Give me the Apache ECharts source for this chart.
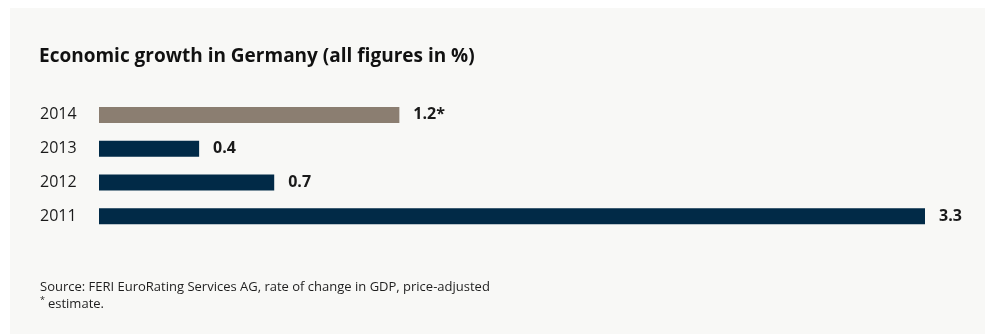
<!DOCTYPE html>
<html>
<head>
<meta charset="utf-8">
<script src="https://cdn.jsdelivr.net/npm/echarts@6/dist/echarts.min.js"></script>
<style>
  html, body { margin: 0; padding: 0; background: #ffffff; }
  #chart { width: 985px; height: 334px; }
</style>
</head>
<body>
<div id="chart"></div>
<script>
// Real GDP growth rates, Germany
const years = ['2011', '2012', '2013', '2014'];
const growth = [3.3, 0.7, 0.4, 1.2];
const estimated = [false, false, false, true];

const titleText = 'Economic growth in Germany (all figures in %)';
const sourceText = 'Source: FERI EuroRating Services AG, rate of change in GDP, price-adjusted';
const noteText = 'estimate.';

const NAVY = '#012a47';
const TAUPE = '#8b7e71';
const FONT = '"Open Sans", "Noto Sans", sans-serif';

const chart = echarts.init(document.getElementById('chart'), null, { renderer: 'canvas' });

chart.setOption({
  backgroundColor: '#ffffff',
  animation: false,
  graphic: [{
    type: 'rect',
    z: -10,
    shape: { x: 10, y: 8, width: 975, height: 326 },
    style: { fill: '#f8f8f6' }
  }],
  title: [{
    text: titleText,
    left: 34,
    top: 42,
    textStyle: { fontFamily: FONT, fontWeight: 'bold', fontSize: 19, color: '#111111' }
  }, {
    text: sourceText + '\n{sup|*}' + noteText,
    left: 35,
    top: 274,
    textStyle: {
      fontFamily: FONT, fontWeight: 'normal', fontSize: 13, lineHeight: 17, color: '#1e1e1e',
      rich: {
        sup: { fontFamily: FONT, fontSize: 9, lineHeight: 17, padding: [0, 3, 5, 0], verticalAlign: 'top', color: '#1e1e1e' }
      }
    }
  }],
  grid: { left: 99, width: 826, top: 98, height: 135, containLabel: false },
  xAxis: {
    type: 'value',
    min: 0,
    max: 3.3,
    show: false
  },
  yAxis: {
    type: 'category',
    data: years,
    axisLine: { show: false },
    axisTick: { show: false },
    splitLine: { show: false },
    axisLabel: {
      align: 'left',
      margin: 59,
      fontFamily: FONT,
      fontSize: 16,
      color: '#1a1a1a'
    }
  },
  series: [{
    type: 'bar',
    barWidth: 16,
    data: growth.map((v, i) => ({
      value: v,
      itemStyle: { color: estimated[i] ? TAUPE : NAVY }
    })),
    label: {
      show: true,
      position: 'right',
      distance: 14,
      fontFamily: FONT,
      fontWeight: 'bold',
      fontSize: 16,
      color: '#1a1a1a',
      formatter: p => p.value + (estimated[p.dataIndex] ? '*' : '')
    }
  }]
});
</script>
</body>
</html>
